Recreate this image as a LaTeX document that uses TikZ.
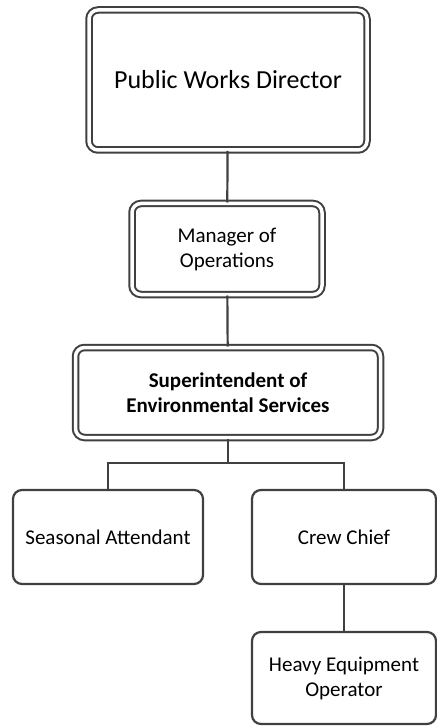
\documentclass[tikz,border=0pt]{standalone}
\usepackage{fontspec}
\setmainfont{Carlito}
\usetikzlibrary{calc}
\definecolor{linegray}{HTML}{404040}
\tikzset{
	orgbox/.style={draw=linegray, line width=2.2pt, rounded corners=9pt, align=center, inner sep=0pt, font=\fontsize{21}{25}\selectfont},
	dblbox/.style={orgbox, line width=2pt, double=white, double distance=3.5pt},
	link/.style={draw=linegray, line width=2.2pt}
}

\begin{document}
\begin{tikzpicture}[x=1pt, y=-1pt]
		%%%%% START %%%%%
		\useasboundingbox (0, 0) rectangle (436, 727);
		
		\node[dblbox, minimum width=278pt, minimum height=140pt, font=\fontsize{26}{31}\selectfont] (director) at (228, 80) {Public Works Director};
		\node[dblbox, minimum width=190pt, minimum height=91pt] (manager) at (227, 249) {Manager of\\Operations};
		\node[dblbox, minimum width=305pt, minimum height=90pt] (super) at (228, 392.5) {\bfseries Superintendent of\\\bfseries Environmental Services};
		
		\node[orgbox, minimum width=190pt, minimum height=94pt] (seasonal) at (108, 537) {Seasonal Attendant};
		\node[orgbox, minimum width=184pt, minimum height=94pt] (crew) at (344, 537) {Crew Chief};
		\node[orgbox, minimum width=184pt, minimum height=92pt] (heavy) at (344, 678) {Heavy Equipment\\Operator};
		
		\coordinate (fork) at (228, 463);
		
		\draw[link] (director) -- (manager);
		\draw[link] (manager) -- (super);
		\draw[link] (super) -- (fork);
		\draw[link] (fork) -| (seasonal);
		\draw[link] (fork) -| (crew);
		\draw[link] (crew) -- (heavy);
		
		%%%%% END %%%%%
	\end{tikzpicture}
\end{document}
